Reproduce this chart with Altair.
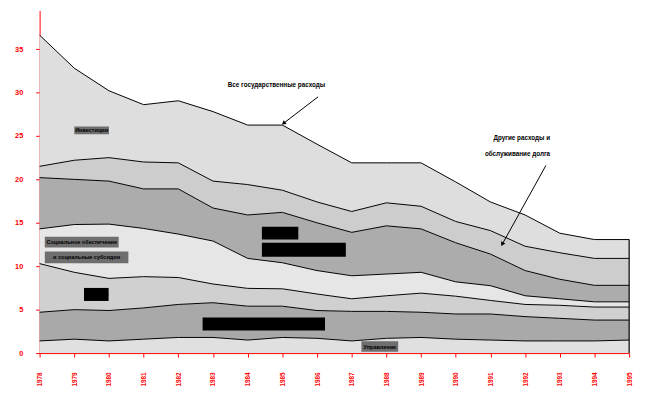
import altair as alt
import pandas as pd

# ---- data ----
years = list(range(1978, 1996))
# cumulative boundaries of the stacked bands (% of GDP), bottom to top
b1 = [1.4, 1.6, 1.4, 1.6, 1.8, 1.8, 1.5, 1.8, 1.7, 1.4, 1.7, 1.8, 1.6, 1.5, 1.4, 1.4, 1.4, 1.5]
b2 = [4.7, 5.0, 4.9, 5.2, 5.6, 5.8, 5.4, 5.4, 4.9, 4.8, 4.8, 4.7, 4.5, 4.5, 4.2, 4.0, 3.8, 3.8]
b3 = [10.3, 9.3, 8.6, 8.8, 8.7, 7.95, 7.45, 7.4, 6.8, 6.25, 6.6, 6.9, 6.55, 6.06, 5.6, 5.5, 5.3, 5.3]
b4 = [14.3, 14.8, 14.85, 14.35, 13.7, 12.9, 10.9, 10.4, 9.5, 8.9, 9.1, 9.3, 8.2, 7.76, 6.6, 6.25, 5.9, 5.9]
b5 = [20.2, 20.0, 19.8, 18.9, 18.9, 16.7, 15.9, 16.2, 15.0, 13.9, 14.65, 14.3, 12.7, 11.4, 9.5, 8.5, 7.8, 7.8]
b6 = [21.5, 22.2, 22.5, 22.0, 21.9, 19.8, 19.4, 18.75, 17.4, 16.3, 17.3, 16.9, 15.15, 14.1, 12.3, 11.55, 10.9, 10.9]
total = [36.6, 32.8, 30.2, 28.6, 29.05, 27.8, 26.25, 26.25, 24.05, 21.9, 21.9, 21.9, 19.7, 17.4, 15.9, 13.8, 13.07, 13.07]
baseline = [0] * len(years)

band_names = ["band1", "band2", "band3", "band4", "band5", "band6", "band7"]
band_colors = ["#e0e0e0", "#a9a9a9", "#d0d0d0", "#e6e6e6", "#acacac", "#cdcdcd", "#dedede"]
y_ticks = [0, 5, 10, 15, 20, 25, 30, 35]

# annotation texts
title_total = "Все государственные расходы"
title_other = ["Другие расходы и", "обслуживание долга"]

bounds = [baseline, b1, b2, b3, b4, b5, b6, total]
rows = []
for i, name in enumerate(band_names):
    for j, yr in enumerate(years):
        rows.append({"band": name, "year": yr, "lo": bounds[i][j], "hi": bounds[i + 1][j]})
bands_df = pd.DataFrame(rows)

line_rows = []
for k, ser in enumerate(bounds[1:]):
    for j, yr in enumerate(years):
        line_rows.append({"line": f"l{k}", "year": yr, "v": ser[j]})
lines_df = pd.DataFrame(line_rows)

font = "Liberation Sans"

x_scale = alt.Scale(domain=[1978, 1995], nice=False, zero=False)
x_axis = alt.Axis(values=years, format="d", labelAngle=-90, labelColor="red",
                  domainColor="red", tickColor="red", tickSize=4, labelFontSize=6.5,
                  labelFontWeight="bold", labelPadding=15, grid=False, title=None,
                  labelOverlap=False, labelFont=font)
y_scale = alt.Scale(domain=[0, 39.45], nice=False)
y_axis = alt.Axis(values=y_ticks, labelColor="red", domainColor="red", tickColor="red",
                  tickSize=4, labelFontSize=7.5, labelFontWeight="bold", labelPadding=13,
                  grid=False, title=None, labelFont=font)


def X(field):
    return alt.X(field, scale=x_scale, axis=x_axis)


def Y(field):
    return alt.Y(field, scale=y_scale, axis=y_axis)


areas = alt.Chart(bands_df).mark_area(interpolate="linear").encode(
    x=X("year:Q"),
    y=Y("hi:Q"),
    y2="lo:Q",
    color=alt.Color("band:N", scale=alt.Scale(domain=band_names, range=band_colors), legend=None),
)

lines = alt.Chart(lines_df).mark_line(color="black", strokeWidth=1).encode(
    x=X("year:Q"), y=Y("v:Q"), detail="line:N")

edge_df = pd.DataFrame({"year": [years[-1]], "lo": [0], "hi": [total[-1]]})
edge = alt.Chart(edge_df).mark_rule(color="black", strokeWidth=1.2).encode(
    x=X("year:Q"), y=Y("lo:Q"), y2="hi:Q")

# label boxes (data coordinates)
box_df = pd.DataFrame({
    "x":  [1979.0, 1978.15, 1978.15, 1979.28, 1984.41, 1984.41, 1982.70, 1987.28],
    "x2": [1980.0, 1980.28, 1980.56, 1979.99, 1985.46, 1986.83, 1986.23, 1988.34],
    "y":  [26.1, 13.4, 11.7, 7.5, 14.55, 12.7, 4.1, 1.36],
    "y2": [25.2, 12.15, 10.35, 6.0, 13.07, 11.1, 2.6, 0.15],
    "fill": ["#6e6e6e", "#6e6e6e", "#6e6e6e", "#000000", "#000000", "#000000", "#000000", "#6e6e6e"],
    "text": ["Инвестиции", "Социальное обеспечение", "и социальные субсидии", "Оборона",
             "Субсидии", "убыточным предприятиям", "Культура и образование", "Управление"],
})
boxes = alt.Chart(box_df).mark_rect().encode(
    x=X("x:Q"), x2="x2", y=Y("y:Q"), y2="y2",
    color=alt.Color("fill:N", scale=None))
box_df["xc"] = (box_df["x"] + box_df["x2"]) / 2
box_df["yc"] = (box_df["y"] + box_df["y2"]) / 2
box_text = alt.Chart(box_df).mark_text(font=font, fontSize=5.6, fontWeight="bold",
                                       color="black", baseline="middle").encode(
    x=X("xc:Q"), y=Y("yc:Q"), text="text:N")

lab_df = pd.DataFrame({
    "x": [1984.83, 1992.72, 1992.72],
    "y": [30.9, 24.8, 22.95],
    "text": [title_total, title_other[0], title_other[1]],
})
lab1 = alt.Chart(lab_df.iloc[:1]).mark_text(font=font, fontSize=6.4, fontWeight="bold",
                                            color="black", align="center").encode(
    x=X("x:Q"), y=Y("y:Q"), text="text:N")
lab2 = alt.Chart(lab_df.iloc[1:]).mark_text(font=font, fontSize=6.4, fontWeight="bold",
                                            color="black", align="right").encode(
    x=X("x:Q"), y=Y("y:Q"), text="text:N")

arrow_df = pd.DataFrame({
    "x": [1986.03, 1992.6], "y": [29.5, 21.6],
    "x2": [1985.05, 1991.35], "y2": [26.5, 12.6],
    "angle": [232, 209],
})
arrows = alt.Chart(arrow_df).mark_rule(color="black", strokeWidth=1).encode(
    x=X("x:Q"), y=Y("y:Q"), x2="x2", y2="y2")
heads = alt.Chart(arrow_df).mark_point(shape="triangle", filled=True, color="black",
                                       size=24, opacity=1).encode(
    x=X("x2:Q"), y=Y("y2:Q"),
    angle=alt.Angle("angle:Q", scale=None))

chart = alt.layer(areas, lines, edge, boxes, box_text, lab1, lab2, arrows, heads).properties(
    width=597, height=347,
    autosize=alt.AutoSizeParams(type="none"),
    padding={"left": 32, "top": 0, "right": 12, "bottom": 40},
    background="white",
).configure_view(strokeWidth=0).configure_axisX(labelOverlap=False)

chart.save("out.html", embed_options={"renderer": "svg", "actions": False})
